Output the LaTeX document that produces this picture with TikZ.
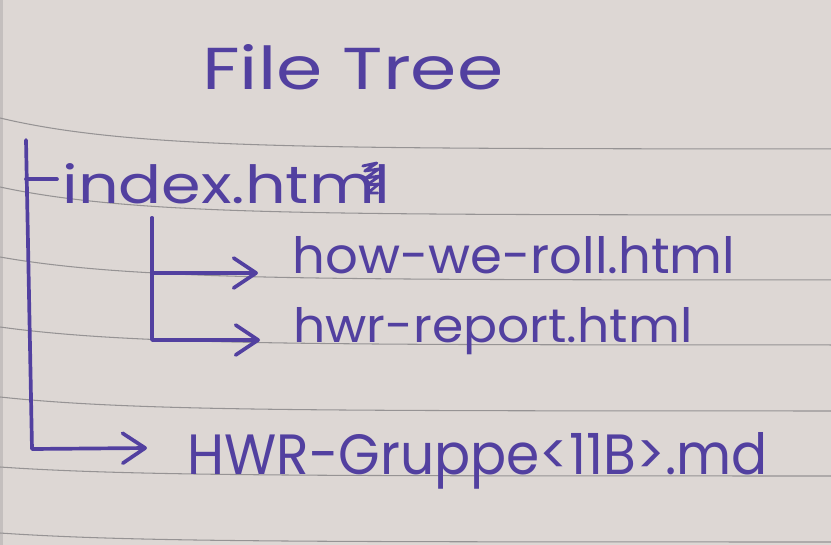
\documentclass[tikz,border=0pt]{standalone}
\usepackage{fontspec}
\setmainfont{Poppins}
\usetikzlibrary{arrows.meta}

\definecolor{paper}{RGB}{221,215,212}
\definecolor{paperedge}{RGB}{196,191,190}
\definecolor{rule}{RGB}{150,147,148}
\definecolor{ink}{RGB}{82,64,160}

% set a label to an exact width and ascender height
\newcommand\inkfit[3]{\resizebox{#1}{#2}{#3}}

\begin{document}
\begin{tikzpicture}[x=0.2mm,y=-0.2mm,
  filename/.style={inner sep=0pt, anchor=base west, text=ink},
  stroke/.style={draw=ink, line width=2.1pt, line cap=round, line join=round},
  branch/.style={stroke, -{Straight Barb[length=4.5mm,width=6mm,round]}}]

% sheet of ruled paper
\fill[paper] (0,0) rectangle (831,545);
\useasboundingbox (0,0) rectangle (831,545);
\fill[paperedge] (0,0) rectangle (3,545);
\foreach \a/\b in {118/149,187/215,257/280,327/345,397/411,467/476,533/542}
  \draw[rule, line width=0.6pt]
    plot[domain=0:831, samples=60, smooth] (\x, {\b-(\b-\a)*exp(-\x/130)});

% heading and file names
\node[filename] (title) at (202,89)  {\inkfit{60.2mm}{9mm}{File Tree}};
\node[filename] (idx)   at (62,203)  {\inkfit{65.6mm}{8mm}{index.html}};
\node[filename] (how)   at (292,273) {\inkfit{88.6mm}{7.4mm}{how-we-roll.html}};
\node[filename] (hwr)   at (293,342) {\inkfit{79.8mm}{7mm}{hwr-report.html}};
\node[filename] (md)    at (187,474) {\inkfit{116mm}{8.4mm}{HWR-Gruppe<11B>.md}};

% correction scribble over the last letter of index.html
\draw[stroke, line width=1.6pt]
  ([xshift=-5.6mm,yshift=7.4mm]idx.base east) -- ++(14,-3) -- ++(-12,8) -- ++(14,-2)
  -- ++(-13,9) -- ++(14,-2) -- ++(-13,9) -- ++(12,-1) -- ++(-11,9) -- ++(10,0);

% main trunk
\coordinate (trunk-top)  at (26,140);
\coordinate (trunk-foot) at (32,449);
\draw[stroke] ([xshift=-1mm,yshift=0.8mm]idx.west) -- +(-31,0);
\draw[branch] (trunk-top) -- (trunk-foot) -- ([xshift=-8mm,yshift=5.2mm]md.base west);

% pages linked from index.html
\coordinate (sub-top) at (152,218);
\draw[branch] (sub-top) |- ([xshift=-6.8mm]how.base west);
\draw[branch] (sub-top) |- ([xshift=-6.6mm,yshift=0.4mm]hwr.base west);
\end{tikzpicture}
\end{document}
